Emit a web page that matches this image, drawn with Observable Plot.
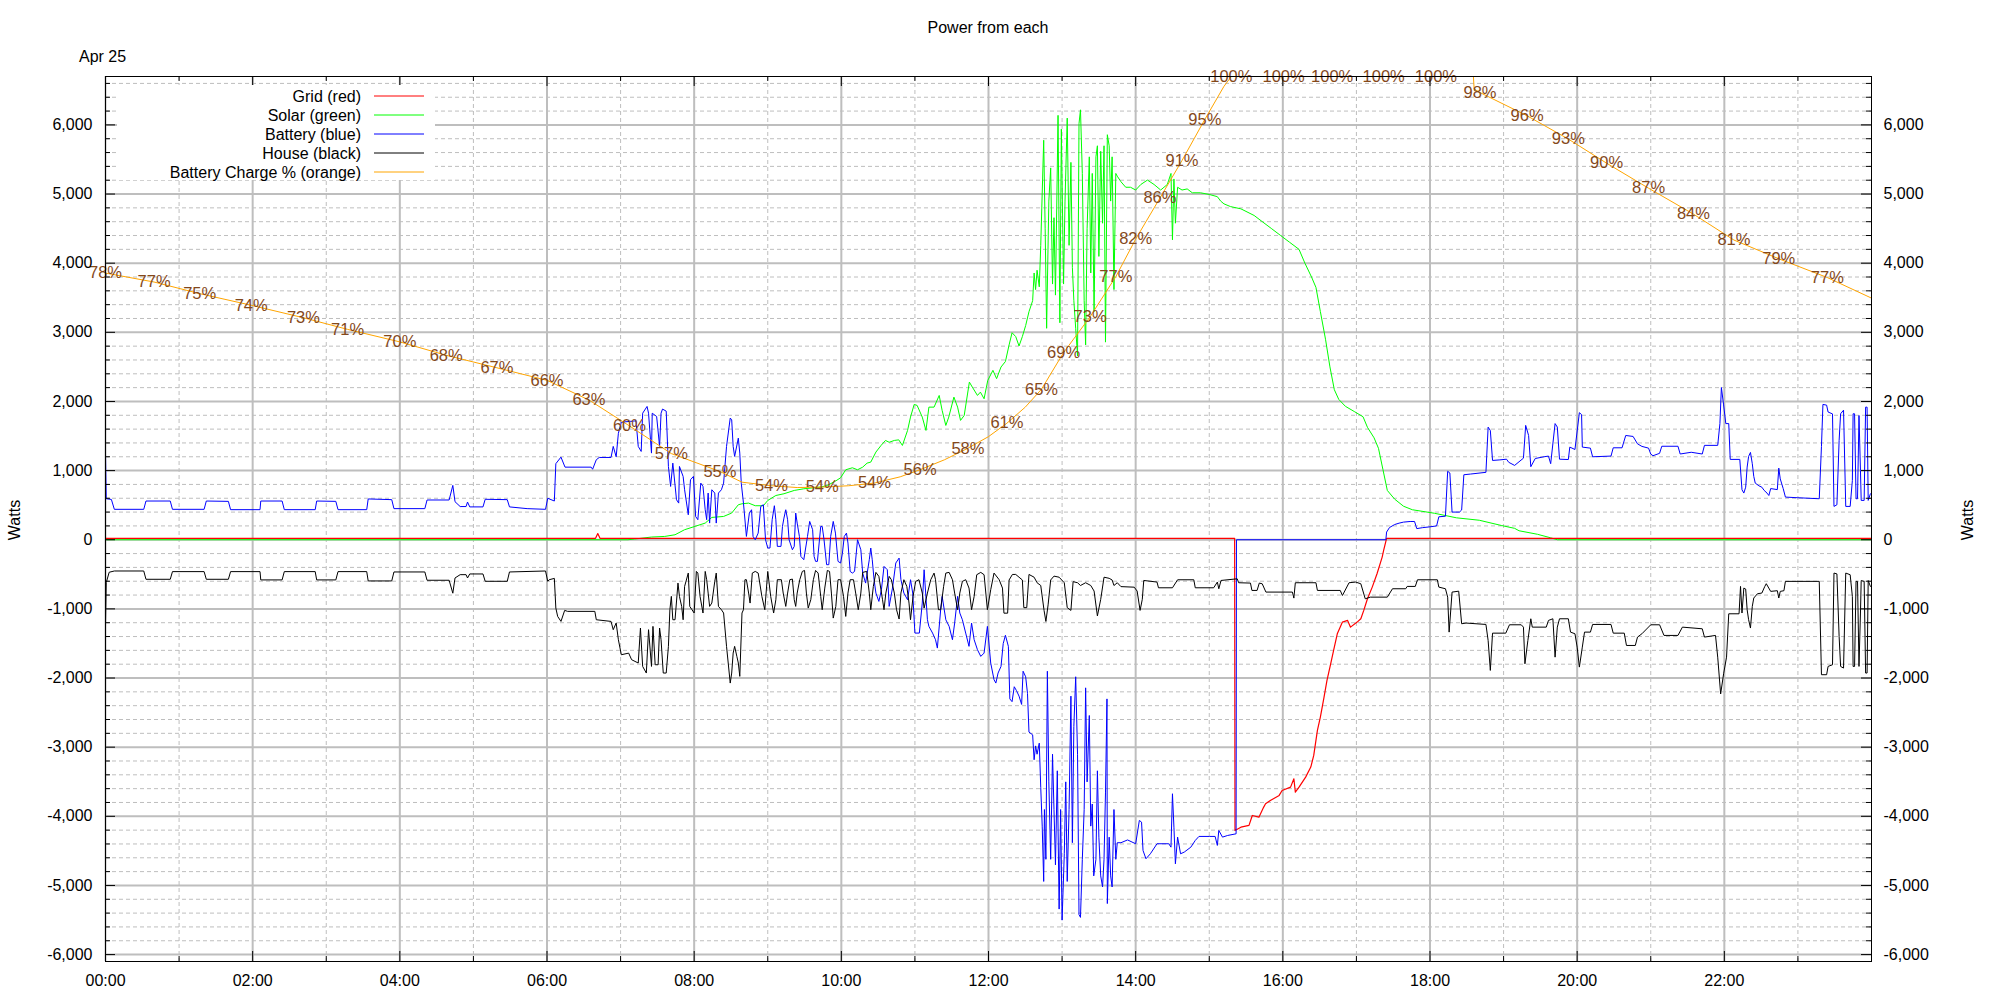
<!DOCTYPE html>
<html><head><meta charset="utf-8">
<script src="https://cdn.jsdelivr.net/npm/d3@7"></script>
<script src="https://cdn.jsdelivr.net/npm/@observablehq/plot@0.6"></script>
<style>
html,body{margin:0;padding:0;background:#fff;}
#chart svg{display:block;}
</style></head>
<body><div id="chart"></div>
<script>
// ---------- DATA (time in decimal hours, power in watts) ----------
const chartTitle = "Power from each";
const dateLabel = "Apr 25";
const axisName = "Watts";
const legendNames = ["Grid (red)", "Solar (green)", "Battery (blue)", "House (black)", "Battery Charge % (orange)"];
const legendColors = ["#ff0000", "#00ff00", "#0000ff", "#000000", "#ffa500"];

const xMajorTicks = [0, 2, 4, 6, 8, 10, 12, 14, 16, 18, 20, 22];
const xMinorTicks = [1, 3, 5, 7, 9, 11, 13, 15, 17, 19, 21, 23];
const yMajorTicks = [-6000, -5000, -4000, -3000, -2000, -1000, 0, 1000, 2000, 3000, 4000, 5000, 6000];
const yMinorTicks = [-5800, -5600, -5400, -5200, -4800, -4600, -4400, -4200, -3800, -3600, -3400, -3200,
  -2800, -2600, -2400, -2200, -1800, -1600, -1400, -1200, -800, -600, -400, -200,
  200, 400, 600, 800, 1200, 1400, 1600, 1800, 2200, 2400, 2600, 2800, 3200, 3400, 3600, 3800,
  4200, 4400, 4600, 4800, 5200, 5400, 5600, 5800, 6200, 6400, 6600];

const gridPower = [
[0.00,20],[6.66,20],[6.69,90],[6.72,20],[15.345,20],[15.35,-4205],[15.43,-4157],[15.54,-4132],[15.585,-3988],[15.675,-4012],
[15.74,-3867],[15.765,-3819],[15.83,-3770],[15.95,-3698],[15.99,-3626],[16.105,-3578],[16.15,-3457],[16.17,-3650],[16.22,-3578],
[16.31,-3433],[16.38,-3288],[16.42,-3120],[16.47,-2758],[16.51,-2565],[16.56,-2276],[16.60,-2035],[16.65,-1794],[16.69,-1601],
[16.74,-1360],[16.81,-1191],[16.88,-1167],[16.92,-1264],[17.01,-1191],[17.06,-1143],[17.10,-1022],[17.15,-854],[17.215,-685],
[17.28,-492],[17.35,-251],[17.37,-155],[17.41,20],[24.00,20]
];

const solar = [
[0.00,0],[7.10,0],[7.19,10],[7.42,39],[7.60,48],[7.74,72],[7.87,145],[8.01,193],[8.15,241],[8.24,323],[8.40,337],[8.51,386],
[8.60,506],[8.65,520],[8.74,530],[8.83,492],[8.94,492],[9.00,568],[9.11,640],[9.22,665],[9.36,713],[9.49,737],[9.63,752],
[9.72,761],[9.81,785],[9.92,848],[9.99,896],[10.06,1012],[10.15,1041],[10.22,1012],[10.29,1050],[10.35,1108],[10.40,1123],
[10.47,1268],[10.54,1364],[10.60,1436],[10.65,1410],[10.72,1436],[10.78,1445],[10.83,1364],[10.90,1581],[10.94,1774],
[10.99,1957],[11.03,1943],[11.10,1774],[11.15,1581],[11.19,1918],[11.26,1918],[11.33,2087],[11.37,1870],[11.42,1653],
[11.46,1774],[11.53,2063],[11.58,1918],[11.62,1726],[11.67,1798],[11.74,2280],[11.78,2208],[11.85,2087],[11.89,2135],
[11.94,2039],[11.99,2304],[12.06,2450],[12.11,2330],[12.17,2498],[12.23,2578],[12.28,2818],[12.32,2994],[12.37,2938],
[12.415,2802],[12.46,2938],[12.505,3098],[12.55,3298],[12.60,3458],[12.62,3858],[12.64,3618],[12.66,3898],[12.69,3658],
[12.71,4258],[12.75,5778],[12.77,4498],[12.79,3058],[12.82,4898],[12.845,5378],[12.87,3698],[12.89,4658],[12.91,3538],
[12.945,6138],[12.97,3138],[12.99,5938],[13.02,3698],[13.04,4898],[13.07,6098],[13.095,4258],[13.12,5458],[13.14,3938],
[13.16,3458],[13.185,3058],[13.21,2658],[13.23,6018],[13.25,6218],[13.275,5298],[13.30,3458],[13.32,2818],[13.34,4498],
[13.37,5538],[13.39,3858],[13.41,5298],[13.435,3298],[13.46,5538],[13.48,5698],[13.50,4098],[13.525,5618],[13.55,4578],
[13.57,5698],[13.59,2858],[13.615,5858],[13.64,5698],[13.66,4898],[13.68,5538],[13.705,3618],[13.73,5298],[13.75,5258],
[13.80,5178],[13.865,5098],[13.93,5098],[14.00,5058],[14.07,5138],[14.16,5202],[14.25,5138],[14.34,5058],[14.43,5138],
[14.48,5298],[14.50,4338],[14.52,5218],[14.54,4578],[14.57,5098],[14.63,5058],[14.70,5074],[14.77,5018],[14.88,5018],
[15.00,4994],[15.11,4962],[15.155,4898],[15.20,4858],[15.29,4818],[15.43,4786],[15.61,4690],[15.73,4593],[15.85,4497],
[15.97,4400],[16.09,4304],[16.22,4200],[16.30,4000],[16.39,3800],[16.45,3650],[16.51,3300],[16.58,2900],[16.64,2500],
[16.70,2170],[16.76,2030],[16.85,1930],[16.97,1855],[17.09,1779],[17.15,1626],[17.24,1474],[17.30,1322],[17.36,1017],
[17.42,713],[17.52,587],[17.64,485],[17.76,434],[18.06,383],[18.36,317],[18.67,282],[18.97,206],[19.15,165],[19.21,130],
[19.46,79],[19.64,28],[19.73,0],[24.00,0]
];

const battery = [
[0.00,1244],[0.01,593],[0.08,583],[0.12,440],[0.52,440],[0.55,560],[0.88,560],[0.91,440],[1.34,440],[1.37,560],[1.67,555],
[1.70,435],[2.10,435],[2.11,560],[2.40,560],[2.43,435],[2.85,435],[2.87,560],[3.13,555],[3.16,435],[3.55,435],[3.57,590],
[3.89,580],[3.92,450],[4.34,450],[4.37,575],[4.67,575],[4.72,786],[4.75,550],[4.82,480],[4.90,480],[4.92,545],[4.95,475],
[5.13,475],[5.16,585],[5.46,580],[5.49,475],[5.73,450],[5.98,440],[6.01,600],[6.10,560],[6.12,1100],[6.19,1195],[6.245,1050],
[6.60,1050],[6.62,1020],[6.67,1157],[6.71,1190],[6.87,1190],[6.90,1350],[6.94,1200],[6.97,1540],[7.01,1700],[7.21,1720],
[7.24,1350],[7.28,1277],[7.30,1830],[7.36,1928],[7.38,1830],[7.42,1253],[7.43,1830],[7.49,1783],[7.53,1350],[7.55,1830],
[7.57,1890],[7.62,1860],[7.65,1060],[7.68,771],[7.71,1108],[7.76,578],[7.79,530],[7.80,1060],[7.85,915],[7.87,723],[7.92,361],
[7.95,868],[7.99,916],[8.02,337],[8.05,290],[8.09,819],[8.12,771],[8.15,434],[8.17,290],[8.19,675],[8.21,241],[8.24,723],
[8.28,675],[8.30,241],[8.33,675],[8.37,723],[8.40,819],[8.44,1350],[8.49,1760],[8.51,1735],[8.53,1350],[8.55,1205],[8.60,1470],
[8.62,1253],[8.64,819],[8.67,530],[8.71,48],[8.75,386],[8.78,434],[8.80,48],[8.83,0],[8.87,96],[8.905,482],[8.94,506],[8.97,0],
[9.00,-120],[9.03,-120],[9.06,289],[9.09,492],[9.11,289],[9.13,-96],[9.18,-96],[9.20,193],[9.22,313],[9.245,434],[9.27,289],
[9.29,0],[9.335,-145],[9.36,-96],[9.38,386],[9.40,241],[9.43,48],[9.45,-241],[9.49,-289],[9.54,48],[9.57,265],[9.61,145],
[9.63,-241],[9.65,-313],[9.675,-313],[9.72,193],[9.74,193],[9.765,0],[9.80,-361],[9.83,-361],[9.855,48],[9.89,265],[9.92,96],
[9.955,-313],[9.99,-337],[10.015,-193],[10.04,48],[10.07,96],[10.09,-48],[10.12,-458],[10.15,-482],[10.18,-458],[10.22,0],
[10.265,-145],[10.29,-482],[10.33,-627],[10.38,-289],[10.40,-120],[10.42,-289],[10.445,-578],[10.47,-771],[10.51,-892],
[10.545,-723],[10.58,-386],[10.625,-434],[10.65,-964],[10.695,-699],[10.74,-337],[10.785,-265],[10.81,-578],[10.85,-771],
[10.90,-868],[10.94,-578],[10.97,-771],[11.00,-1350],[11.06,-1350],[11.10,-916],[11.125,-434],[11.17,-1157],[11.19,-1253],
[11.24,-1350],[11.28,-1446],[11.305,-1567],[11.35,-1012],[11.37,-819],[11.42,-1157],[11.465,-1253],[11.51,-1446],[11.54,-1205],
[11.58,-819],[11.61,-1060],[11.645,-1157],[11.69,-1350],[11.735,-1542],[11.77,-1205],[11.805,-1446],[11.85,-1591],[11.895,-1687],
[11.94,-1639],[11.985,-1253],[12.03,-1783],[12.075,-2024],[12.10,-2073],[12.13,-1928],[12.17,-1832],[12.20,-1502],[12.23,-1382],
[12.27,-1542],[12.29,-2302],[12.32,-2342],[12.35,-2126],[12.38,-2182],[12.415,-2262],[12.45,-2382],[12.47,-1902],[12.505,-1982],
[12.53,-2222],[12.55,-2782],[12.60,-2822],[12.62,-3182],[12.64,-2982],[12.66,-3102],[12.69,-2942],[12.71,-3582],[12.73,-4142],
[12.75,-4942],[12.76,-3902],[12.78,-4622],[12.80,-1902],[12.82,-3502],[12.845,-4622],[12.87,-3102],[12.89,-3902],[12.91,-4702],
[12.935,-3342],[12.96,-5342],[12.98,-3902],[13.00,-5502],[13.03,-4542],[13.05,-3502],[13.07,-4942],[13.095,-3902],[13.12,-2262],
[13.14,-4382],[13.16,-2702],[13.185,-1982],[13.21,-3102],[13.23,-5422],[13.25,-5462],[13.275,-4622],[13.30,-3902],[13.32,-2142],
[13.34,-3502],[13.37,-2542],[13.39,-4142],[13.41,-3822],[13.43,-4862],[13.46,-4622],[13.48,-3342],[13.50,-4302],[13.525,-4862],
[13.55,-5022],[13.57,-4622],[13.59,-3662],[13.61,-2302],[13.615,-5262],[13.64,-4302],[13.66,-4862],[13.68,-5022],[13.705,-3902],
[13.73,-4622],[13.75,-4382],[13.80,-4382],[13.89,-4342],[14.00,-4397],[14.05,-4060],[14.08,-4084],[14.10,-4494],[14.14,-4614],
[14.20,-4542],[14.29,-4397],[14.45,-4397],[14.48,-4446],[14.50,-3674],[14.52,-4157],[14.54,-4687],[14.57,-4301],[14.61,-4542],
[14.66,-4518],[14.75,-4446],[14.81,-4349],[14.86,-4291],[15.00,-4291],[15.08,-4291],[15.11,-4421],[15.13,-4205],[15.18,-4301],
[15.25,-4277],[15.365,-4253],[15.37,0],[17.40,0],[17.41,111],[17.45,177],[17.52,220],[17.58,240],[17.64,255],[17.73,264],
[17.79,264],[17.82,161],[17.90,175],[18.00,187],[18.09,200],[18.12,332],[18.21,340],[18.24,990],[18.27,965],[18.30,400],
[18.40,400],[18.43,430],[18.46,940],[18.55,950],[18.76,975],[18.79,1629],[18.82,1580],[18.85,1147],[18.95,1155],[19.04,1165],
[19.07,1120],[19.15,1075],[19.27,1180],[19.30,1654],[19.34,1508],[19.37,1056],[19.43,1175],[19.55,1200],[19.61,1210],
[19.64,1100],[19.70,1680],[19.73,1630],[19.76,1165],[19.88,1160],[19.90,1340],[19.97,1305],[20.03,1838],[20.06,1810],
[20.07,1340],[20.18,1325],[20.21,1200],[20.46,1210],[20.49,1330],[20.61,1330],[20.66,1508],[20.76,1494],[20.82,1387],
[20.88,1350],[20.97,1325],[21.00,1240],[21.03,1215],[21.12,1250],[21.15,1352],[21.37,1352],[21.40,1240],[21.55,1265],
[21.70,1240],[21.73,1365],[21.91,1365],[21.94,1680],[21.96,2202],[21.99,1950],[22.02,1680],[22.06,1680],[22.08,1162],
[22.21,1162],[22.24,723],[22.265,675],[22.29,760],[22.31,1051],[22.33,1205],[22.355,1263],[22.38,1100],[22.40,916],[22.42,819],
[22.47,780],[22.51,760],[22.54,715],[22.58,675],[22.605,640],[22.63,740],[22.72,725],[22.74,1036],[22.76,880],[22.80,740],
[22.83,617],[22.99,608],[23.29,593],[23.32,1350],[23.34,1957],[23.39,1947],[23.41,1847],[23.47,1820],[23.49,482],[23.53,506],
[23.56,1436],[23.58,1822],[23.62,1874],[23.65,482],[23.71,482],[23.74,858],[23.75,1822],[23.77,1822],[23.79,593],[23.81,593],
[23.83,1797],[23.85,1000],[23.86,569],[23.90,569],[23.92,1918],[23.94,1918],[23.955,569],[23.985,665]
];

const house = [
[0.00,-1240],[0.01,-620],[0.05,-470],[0.12,-452],[0.52,-452],[0.55,-572],[0.88,-572],[0.91,-461],[1.34,-461],[1.37,-572],
[1.67,-572],[1.70,-461],[2.10,-461],[2.11,-581],[2.40,-581],[2.43,-461],[2.85,-461],[2.87,-581],[3.13,-581],[3.16,-461],
[3.55,-461],[3.57,-596],[3.89,-596],[3.92,-466],[4.34,-466],[4.37,-586],[4.67,-586],[4.72,-773],[4.75,-553],[4.82,-505],
[4.90,-505],[4.92,-553],[4.95,-495],[5.13,-495],[5.16,-601],[5.46,-601],[5.49,-466],[5.98,-452],[6.01,-601],[6.03,-578],
[6.10,-559],[6.12,-988],[6.145,-1109],[6.19,-1181],[6.24,-1022],[6.28,-1036],[6.65,-1036],[6.67,-1157],[6.87,-1181],[6.90,-1301],
[6.94,-1205],[6.97,-1446],[7.01,-1663],[7.11,-1640],[7.15,-1735],[7.24,-1783],[7.27,-1277],[7.30,-1832],[7.35,-1928],[7.38,-1301],
[7.42,-1832],[7.44,-1253],[7.47,-1808],[7.51,-1808],[7.53,-1277],[7.55,-1446],[7.58,-1928],[7.62,-1928],[7.65,-1542],[7.67,-1012],
[7.69,-819],[7.71,-1157],[7.74,-1157],[7.78,-627],[7.80,-819],[7.83,-964],[7.85,-1157],[7.87,-675],[7.92,-482],[7.94,-964],
[7.97,-1012],[8.00,-1060],[8.03,-458],[8.05,-482],[8.08,-819],[8.12,-1060],[8.15,-458],[8.17,-578],[8.19,-771],[8.21,-964],
[8.24,-916],[8.28,-603],[8.30,-482],[8.33,-964],[8.37,-1012],[8.40,-1060],[8.44,-1542],[8.49,-2073],[8.51,-1928],[8.53,-1639],
[8.55,-1542],[8.58,-1687],[8.60,-1783],[8.62,-1976],[8.65,-1060],[8.67,-1012],[8.69,-578],[8.71,-578],[8.74,-771],[8.76,-916],
[8.79,-482],[8.83,-458],[8.87,-482],[8.92,-819],[8.96,-1012],[9.00,-458],[9.04,-819],[9.08,-1060],[9.11,-868],[9.13,-578],
[9.185,-578],[9.21,-771],[9.245,-964],[9.27,-771],[9.30,-578],[9.335,-569],[9.36,-868],[9.38,-964],[9.40,-771],[9.435,-578],
[9.47,-458],[9.50,-444],[9.525,-771],[9.55,-988],[9.585,-868],[9.62,-578],[9.65,-444],[9.685,-482],[9.72,-819],[9.74,-1012],
[9.775,-699],[9.81,-444],[9.84,-458],[9.865,-771],[9.89,-1133],[9.925,-964],[9.955,-578],[9.99,-578],[10.03,-819],[10.06,-1109],
[10.09,-771],[10.12,-578],[10.165,-578],[10.195,-771],[10.23,-1012],[10.265,-771],[10.29,-472],[10.345,-458],[10.38,-771],
[10.40,-1012],[10.435,-675],[10.47,-472],[10.51,-530],[10.56,-868],[10.58,-1012],[10.605,-771],[10.65,-530],[10.68,-578],
[10.72,-771],[10.75,-1012],[10.785,-1147],[10.81,-771],[10.85,-578],[10.89,-675],[10.92,-916],[10.94,-1157],[10.975,-819],
[11.01,-603],[11.055,-578],[11.10,-771],[11.125,-988],[11.17,-771],[11.215,-578],[11.26,-482],[11.28,-578],[11.32,-1012],
[11.35,-1012],[11.39,-675],[11.42,-482],[11.465,-472],[11.51,-578],[11.54,-771],[11.58,-1012],[11.61,-771],[11.645,-603],
[11.69,-578],[11.735,-699],[11.77,-1012],[11.805,-819],[11.84,-506],[11.895,-472],[11.94,-506],[11.985,-1012],[12.03,-723],
[12.075,-482],[12.145,-578],[12.19,-699],[12.21,-1062],[12.26,-1062],[12.28,-582],[12.325,-502],[12.37,-502],[12.415,-542],
[12.46,-582],[12.48,-982],[12.52,-982],[12.55,-502],[12.62,-542],[12.66,-622],[12.71,-662],[12.755,-1022],[12.78,-1182],
[12.81,-942],[12.845,-582],[12.89,-526],[12.96,-542],[13.03,-622],[13.07,-982],[13.12,-1022],[13.15,-606],[13.21,-622],
[13.25,-662],[13.32,-622],[13.39,-662],[13.435,-742],[13.48,-1102],[13.525,-862],[13.57,-542],[13.64,-558],[13.68,-582],
[13.705,-662],[13.75,-622],[13.80,-678],[13.98,-686],[14.02,-742],[14.06,-1022],[14.09,-862],[14.11,-589],[14.29,-612],
[14.31,-695],[14.50,-695],[14.57,-579],[14.79,-579],[14.81,-695],[15.06,-695],[15.11,-612],[15.13,-709],[15.16,-589],
[15.38,-565],[15.40,-622],[15.56,-627],[15.58,-733],[15.65,-733],[15.68,-627],[15.72,-637],[15.77,-757],[16.13,-757],
[16.15,-844],[16.17,-622],[16.45,-622],[16.47,-733],[16.78,-733],[16.81,-806],[16.90,-622],[16.99,-612],[17.06,-637],
[17.12,-854],[17.19,-830],[17.42,-830],[17.49,-709],[17.67,-709],[17.69,-675],[17.80,-675],[17.83,-579],[18.10,-579],
[18.12,-685],[18.21,-709],[18.24,-830],[18.26,-1336],[18.30,-757],[18.39,-744],[18.43,-1215],[18.49,-1205],[18.76,-1225],
[18.79,-1457],[18.82,-1890],[18.85,-1351],[19.03,-1351],[19.08,-1230],[19.24,-1230],[19.27,-1264],[19.29,-1794],[19.33,-1457],
[19.37,-1143],[19.39,-1264],[19.58,-1264],[19.61,-1167],[19.67,-1143],[19.70,-1698],[19.73,-1264],[19.76,-1143],[19.88,-1143],
[19.91,-1336],[19.97,-1360],[20.00,-1553],[20.03,-1842],[20.07,-1553],[20.10,-1336],[20.18,-1336],[20.21,-1225],[20.46,-1225],
[20.49,-1351],[20.64,-1351],[20.67,-1529],[20.79,-1529],[20.82,-1408],[20.88,-1360],[21.00,-1230],[21.12,-1230],[21.18,-1384],
[21.37,-1384],[21.43,-1264],[21.70,-1288],[21.73,-1408],[21.88,-1384],[21.91,-1698],[21.95,-2230],[21.99,-1939],[22.03,-1698],
[22.06,-1071],[22.20,-1071],[22.22,-675],[22.24,-1060],[22.265,-699],[22.29,-713],[22.31,-1012],[22.33,-1157],[22.355,-1277],
[22.38,-964],[22.40,-843],[22.45,-781],[22.51,-771],[22.55,-675],[22.57,-636],[22.63,-747],[22.72,-737],[22.74,-843],
[22.76,-747],[22.81,-737],[22.83,-602],[23.29,-602],[23.32,-1952],[23.39,-1952],[23.41,-1832],[23.47,-1808],[23.49,-482],
[23.53,-494],[23.56,-1398],[23.58,-1832],[23.62,-1856],[23.65,-482],[23.71,-506],[23.74,-819],[23.75,-1832],[23.77,-1832],
[23.79,-602],[23.81,-602],[23.83,-1832],[23.85,-1060],[23.86,-590],[23.90,-602],[23.92,-1928],[23.94,-1928],[23.955,-590],
[23.985,-675]
];

// battery state of charge (%)
const chargeLine = [
[0.00,78.0],[0.66,77.0],[1.28,75.7],[1.98,74.4],[2.69,73.0],[3.29,71.7],[4.00,70.3],[4.63,68.8],[5.32,67.4],[6.00,66.0],
[6.57,63.8],[7.12,60.9],[7.69,57.8],[8.35,55.8],[8.65,54.6],[9.05,54.2],[9.40,54.0],[9.74,54.05],[10.10,54.2],[10.45,54.5],
[10.80,55.2],[11.07,56.0],[11.40,57.1],[11.72,58.4],[12.00,59.7],[12.25,61.2],[12.50,63.0],[12.72,65.0],[13.02,69.1],
[13.38,73.1],[13.73,77.6],[14.00,81.8],[14.33,86.4],[14.63,90.6],[14.94,95.2],[15.20,98.9],[15.30,100],[16.01,100],
[16.67,100],[17.37,100],[18.08,100],[18.59,100],[18.60,98.6],[18.68,98.2],[19.32,95.6],[19.88,93.0],[20.40,90.3],
[20.97,87.5],[21.58,84.6],[22.13,81.7],[22.74,79.6],[23.40,77.5],[24.00,75.2]
];
const chargeLabels = [
[0.00,"78%"],[0.66,"77%"],[1.28,"75%"],[1.98,"74%"],[2.69,"73%"],[3.29,"71%"],[4.00,"70%"],[4.63,"68%"],[5.32,"67%"],
[6.00,"66%"],[6.57,"63%"],[7.12,"60%"],[7.69,"57%"],[8.35,"55%"],[9.05,"54%"],[9.74,"54%"],[10.45,"54%"],[11.07,"56%"],
[11.72,"58%"],[12.25,"61%"],[12.72,"65%"],[13.02,"69%"],[13.38,"73%"],[13.73,"77%"],[14.00,"82%"],[14.33,"86%"],
[14.63,"91%"],[14.94,"95%"],[15.30,"100%"],[16.01,"100%"],[16.67,"100%"],[17.37,"100%"],[18.08,"100%"],[18.68,"98%"],
[19.32,"96%"],[19.88,"93%"],[20.40,"90%"],[20.97,"87%"],[21.58,"84%"],[22.13,"81%"],[22.74,"79%"],[23.40,"77%"]
];

// ---------- LAYOUT ----------
const W = 2000, H = 1000, mL = 105, mR = 129, mT = 76, mB = 39;
const X0 = 0, X1 = 24, Y0 = -6100, Y1 = 6700;
const pxPerHour = (W - mL - mR) / (X1 - X0);
const pxPerWatt = (H - mT - mB) / (Y1 - Y0);
const MAJ = 10, MIN = 5;
const hx = px => px / pxPerHour;   // pixel length -> hours
const wy = px => px / pxPerWatt;   // pixel length -> watts
const toW = p => Y1 - (100 - p) * 129.24;   // charge % -> position on the watts axis (100% = top)
const chargeAt = new Map(chargeLine.map(d => [d[0], d[1]]));
const fmtW = d => (d < 0 ? "-" : "") + d3.format(",")(Math.abs(d));
const fmtT = d => String(d).padStart(2, "0") + ":00";
const FONT = "'Liberation Sans', Arial, Helvetica, sans-serif";
const GRID = "#bebebe";

const series = (data, color, sw = 1) => Plot.line(data, {x: d => d[0], y: d => d[1], stroke: color, strokeWidth: sw, clip: true});

const chart = Plot.plot({
  width: W, height: H,
  marginLeft: mL, marginRight: mR, marginTop: mT, marginBottom: mB,
  x: {domain: [X0, X1]},
  y: {domain: [Y0, Y1]},
  style: {fontFamily: FONT, fontSize: "16px", background: "#fff", color: "#000"},
  marks: [
    Plot.ruleY(yMinorTicks, {stroke: GRID, strokeWidth: 1, strokeDasharray: "4,3"}),
    Plot.ruleX(xMinorTicks, {stroke: GRID, strokeWidth: 1, strokeDasharray: "4,3"}),
    Plot.ruleY(yMajorTicks, {stroke: GRID, strokeWidth: 2}),
    Plot.ruleX(xMajorTicks, {stroke: GRID, strokeWidth: 2}),
    series(solar, legendColors[1]),
    series(gridPower, legendColors[0], 1.2),
    series(battery, legendColors[2]),
    series(house, legendColors[3]),
    Plot.line(chargeLine, {x: d => d[0], y: d => toW(d[1]), stroke: legendColors[4], strokeWidth: 1, clip: true}),
    Plot.text(chargeLabels, {x: d => d[0], y: d => toW(chargeAt.get(d[0])), text: d => d[1], fill: "#84481a", fontSize: 16.5}),
    Plot.frame({stroke: "#000", strokeWidth: 1}),
    // inward tick marks on all four sides
    Plot.ruleY(yMajorTicks, {x1: X0, x2: X0 + hx(MAJ), stroke: "#000"}),
    Plot.ruleY(yMinorTicks, {x1: X0, x2: X0 + hx(MIN), stroke: "#000"}),
    Plot.ruleY(yMajorTicks, {x1: X1 - hx(MAJ), x2: X1, stroke: "#000"}),
    Plot.ruleY(yMinorTicks, {x1: X1 - hx(MIN), x2: X1, stroke: "#000"}),
    Plot.ruleX(xMajorTicks, {y1: Y0, y2: Y0 + wy(MAJ), stroke: "#000"}),
    Plot.ruleX(xMinorTicks, {y1: Y0, y2: Y0 + wy(MIN), stroke: "#000"}),
    Plot.ruleX(xMajorTicks, {y1: Y1 - wy(MAJ), y2: Y1, stroke: "#000"}),
    Plot.ruleX(xMinorTicks, {y1: Y1 - wy(MIN), y2: Y1, stroke: "#000"}),
    Plot.axisY(yMajorTicks, {anchor: "left", tickSize: 0, tickPadding: 13, tickFormat: fmtW, label: null, fontSize: 16}),
    Plot.axisY(yMajorTicks, {anchor: "right", tickSize: 0, tickPadding: 12, tickFormat: fmtW, label: null, fontSize: 16}),
    Plot.axisX(xMajorTicks, {anchor: "bottom", tickSize: 0, tickPadding: 13, tickFormat: fmtT, label: null, fontSize: 16})
  ]
});
document.getElementById("chart").appendChild(chart);

// ---------- titles, axis names, legend ----------
const svg = d3.select(chart);
const txt = (x, y, s, anchor, rot) => {
  const t = svg.append("text").attr("x", x).attr("y", y).attr("text-anchor", anchor)
    .attr("dominant-baseline", "central").attr("font-family", FONT).attr("font-size", 16).attr("fill", "#000").text(s);
  if (rot) t.attr("transform", `rotate(${rot},${x},${y})`);
  return t;
};
txt(mL + (W - mL - mR) / 2, 27, chartTitle, "middle");
txt(79, 56, dateLabel, "start");
txt(14, 520, axisName, "middle", -90);
txt(1967, 520, axisName, "middle", -90);

const lg = svg.append("g");
lg.append("rect").attr("x", 117).attr("y", 85).attr("width", 318).attr("height", 95).attr("fill", "#fff");
legendNames.forEach((name, i) => {
  const y = 96 + i * 19;
  lg.append("text").attr("x", 361).attr("y", y).attr("text-anchor", "end").attr("dominant-baseline", "central")
    .attr("font-family", FONT).attr("font-size", 16).attr("fill", "#000").text(name);
  lg.append("line").attr("x1", 374).attr("x2", 424).attr("y1", y).attr("y2", y)
    .attr("stroke", legendColors[i]).attr("stroke-width", 1);
});
</script>
</body></html>
